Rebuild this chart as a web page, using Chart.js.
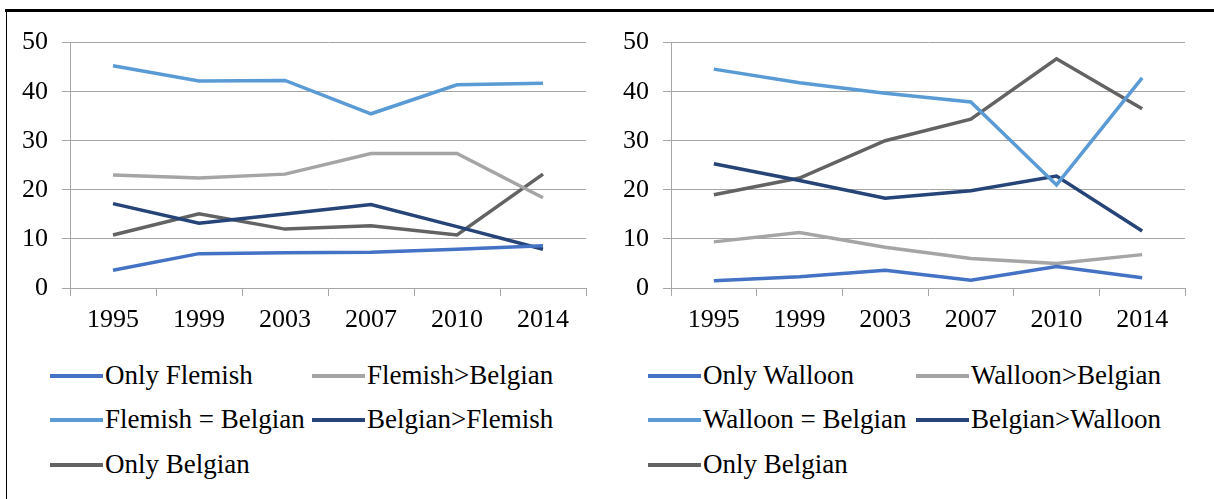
<!DOCTYPE html>
<html>
<head>
<meta charset="utf-8">
<script src="https://cdn.jsdelivr.net/npm/chart.js@4/dist/chart.umd.min.js"></script>
<style>
  body{margin:0;background:#fff;width:1214px;height:499px;overflow:hidden;position:relative;font-family:"Times New Roman",Times,"Liberation Serif",Tinos,serif;}
  #topline{position:absolute;left:5px;top:9px;width:1209px;height:3px;background:#000;}
  #leftline{position:absolute;left:6px;top:10px;width:1px;height:489px;background:#000;}
  canvas{position:absolute;}
  .leg{position:absolute;font-size:27px;color:#000;white-space:nowrap;line-height:30px;}
  .leg span.ln{display:inline-block;width:53px;height:4px;vertical-align:middle;margin-right:2px;position:relative;top:-2px;}
</style>
</head>
<body>
<div id="topline"></div>
<div id="leftline"></div>
<canvas id="c1" width="600" height="327" style="left:0;top:13px"></canvas>
<canvas id="c2" width="614" height="327" style="left:600px;top:13px"></canvas>
<div id="legends"></div>
<script>
var years = ["1995","1999","2003","2007","2010","2014"];
var yTicks = [0,10,20,30,40,50];

// left chart - Flanders
var onlyFlemish      = [3.6, 7.0, 7.2, 7.3, 7.9, 8.6];
var flemishGtBelgian = [23.0, 22.4, 23.2, 27.4, 27.4, 18.4];
var flemishEqBelgian = [45.3, 42.2, 42.3, 35.5, 41.4, 41.7];
var belgianGtFlemish = [17.2, 13.2, 15.1, 17.0, 12.5, 7.9];
var onlyBelgianF     = [10.8, 15.1, 12.0, 12.7, 10.8, 23.2];

// right chart - Wallonia
var onlyWalloon      = [1.5, 2.3, 3.6, 1.6, 4.4, 2.1];
var walloonGtBelgian = [9.4, 11.3, 8.3, 6.0, 5.0, 6.8];
var walloonEqBelgian = [44.6, 41.8, 39.7, 37.9, 21.0, 42.8];
var belgianGtWalloon = [25.3, 21.9, 18.3, 19.8, 22.8, 11.6];
var onlyBelgianW     = [19.0, 22.4, 30.0, 34.4, 46.7, 36.5];

var namesF = ["Only Flemish","Flemish>Belgian","Flemish = Belgian","Belgian>Flemish","Only Belgian"];
var namesW = ["Only Walloon","Walloon>Belgian","Walloon = Belgian","Belgian>Walloon","Only Belgian"];
var colors = ["#4472c4","#a5a5a5","#5b9bd5","#264478","#636363"];

var gridCol = "#a6a6a6";
var fnt = {family:"'Times New Roman', Times, 'Liberation Serif', Tinos, serif", size:26};

function makeChart(id, names, series, yw, padR){
    var ds = [];
    for (var i=0;i<series.length;i++){
        ds.push({label:names[i], data:series[i], borderColor:colors[i], backgroundColor:colors[i],
                 borderWidth:3.5, pointRadius:0, tension:0, fill:false});
    }
    return new Chart(document.getElementById(id), {
        type:"line",
        data:{labels:years, datasets:ds},
        options:{
            responsive:false, animation:false, devicePixelRatio:1,
            layout:{padding:{top:12,right:padR,left:0,bottom:0}},
            plugins:{legend:{display:false}, tooltip:{enabled:false}},
            scales:{
                x:{
                    offset:true,
                    grid:{drawOnChartArea:false, drawTicks:true, tickLength:8, color:gridCol, offset:true},
                    border:{color:gridCol, width:1},
                    ticks:{color:"#000", font:fnt, padding:9, maxRotation:0},
                    afterFit:function(s){ s.height = 52; }
                },
                y:{
                    min:0, max:50,
                    grid:{color:gridCol, tickLength:8, drawTicks:true},
                    border:{color:gridCol, width:1},
                    ticks:{color:"#000", font:fnt, padding:14, stepSize:10,
                           callback:function(v){ return yTicks.indexOf(v)>=0 ? String(v) : ""; }},
                    afterFit:function(s){ s.width = yw; }
                }
            }
        }
    });
}

makeChart("c1", namesF, [onlyFlemish, flemishGtBelgian, flemishEqBelgian, belgianGtFlemish, onlyBelgianF], 70, 14);
makeChart("c2", namesW, [onlyWalloon, walloonGtBelgian, walloonEqBelgian, belgianGtWalloon, onlyBelgianW], 71, 29);

// legends laid out as two columns, three rows
function legend(names, colX){
    var rows = [375, 419, 464];
    var holder = document.getElementById("legends");
    for (var i=0;i<names.length;i++){
        var d = document.createElement("div");
        d.className = "leg";
        d.style.left = colX[i%2] + "px";
        d.style.top = (rows[Math.floor(i/2)] - 15) + "px";
        d.innerHTML = '<span class="ln" style="background:'+colors[i]+'"></span>' + names[i].replace(/>/g,"&gt;");
        holder.appendChild(d);
    }
}
legend(namesF, [50, 312]);
legend(namesW, [648, 916]);
</script>
</body>
</html>
